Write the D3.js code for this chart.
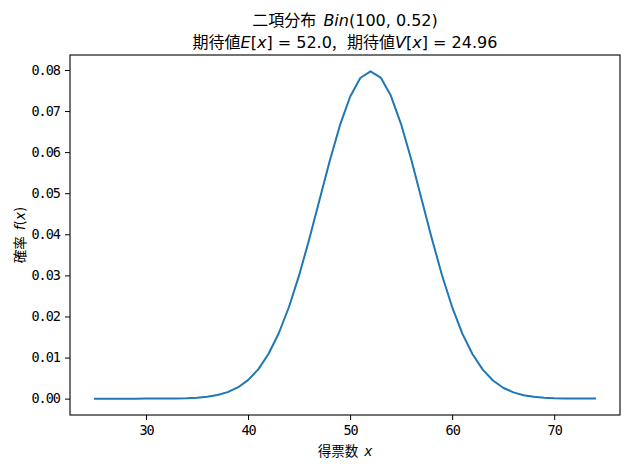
<!DOCTYPE html>
<html>
<head>
<meta charset="utf-8">
<script src="https://cdn.jsdelivr.net/npm/d3@7"></script>
<style>
body { margin: 0; background: #fff; }
text { white-space: pre; }
</style>
</head>
<body>
<div id="chart"></div>
<script>
// 得票数 x (25..74)
const votes = [25, 26, 27, 28, 29, 30, 31, 32, 33, 34, 35, 36, 37, 38, 39, 40, 41, 42, 43, 44,
    45, 46, 47, 48, 49, 50, 51, 52, 53, 54, 55, 56, 57, 58, 59, 60, 61, 62, 63, 64,
    65, 66, 67, 68, 69, 70, 71, 72, 73, 74];
// 確率 f(x)
const probs = [0.00000002, 0.00000006, 0.0000002, 0.0000006, 0.0000017, 0.0000043, 0.0000106, 0.0000247, 0.0000551, 0.000118,
    0.000240, 0.000470, 0.000880, 0.001580, 0.002721, 0.004496, 0.007128, 0.010848, 0.015851, 0.022245,
    0.029989, 0.038845, 0.048350, 0.057835, 0.066490, 0.073472, 0.078034, 0.079656, 0.078157, 0.073694,
    0.066771, 0.058127, 0.048609, 0.039041, 0.030108, 0.022288, 0.015833, 0.010789, 0.007050, 0.004415,
    0.002649, 0.001522, 0.000837, 0.000440, 0.000221, 0.000106, 0.0000485, 0.0000212, 0.0000088, 0.0000035];
const xTicks = [30, 40, 50, 60, 70];
const yTicks = [0.00, 0.01, 0.02, 0.03, 0.04, 0.05, 0.06, 0.07, 0.08];

const cjk = '"Noto Sans CJK JP", sans-serif';
const math = '"DejaVu Sans", sans-serif';
const tickFont = '"DejaVu Sans Mono", monospace';

const svg = d3.select('#chart').append('svg').attr('width', 630).attr('height', 470);

const margin = {top: 55, right: 10, bottom: 55, left: 70},
      width = +svg.attr('width') - margin.left - margin.right,
      height = +svg.attr('height') - margin.top - margin.bottom;

const data = votes.map((v, i) => ({x: v, y: probs[i]}));

// matplotlib-like 5% padding
const xExt = d3.extent(votes), yExt = d3.extent(probs);
const xPad = (xExt[1] - xExt[0]) * 0.05, yPad = (yExt[1] - yExt[0]) * 0.05;

const x = d3.scaleLinear().domain([xExt[0] - xPad, xExt[1] + xPad]).range([0, width]);
const y = d3.scaleLinear().domain([yExt[0] - yPad, yExt[1] + yPad]).range([height, 0]);

const g = svg.append('g').attr('transform', `translate(${margin.left},${margin.top})`);

const xAxis = g.append('g')
    .attr('transform', `translate(0,${height})`)
    .call(d3.axisBottom(x).tickValues(xTicks).tickSize(5).tickPadding(5).tickFormat(d3.format('d')));

const yAxis = g.append('g')
    .call(d3.axisLeft(y).tickValues(yTicks).tickSize(5).tickPadding(5).tickFormat(d3.format('.2f')));

[xAxis, yAxis].forEach(a => {
    a.select('.domain').remove();
    a.selectAll('.tick line').attr('stroke', '#000').attr('stroke-width', 1);
    a.selectAll('.tick text').attr('fill', '#000')
        .style('font-family', tickFont).style('font-size', '13.5px').style('letter-spacing', '-1px');
});

g.append('path')
    .datum(data)
    .attr('fill', 'none')
    .attr('stroke', '#1f77b4')
    .attr('stroke-width', 2)
    .attr('stroke-linejoin', 'round')
    .attr('stroke-linecap', 'square')
    .attr('d', d3.line().x(d => x(d.x)).y(d => y(d.y)));

g.append('rect')
    .attr('x', 0).attr('y', 0)
    .attr('width', width).attr('height', height)
    .attr('fill', 'none')
    .attr('stroke', '#000')
    .attr('stroke-width', 1.1);

// title
const t1 = svg.append('text')
    .attr('x', margin.left + width / 2).attr('y', 26)
    .attr('text-anchor', 'middle')
    .style('font-size', '16px');
t1.append('tspan').style('font-family', cjk).text('二項分布  ');
t1.append('tspan').style('font-family', math).style('font-style', 'italic').text('Bin');
t1.append('tspan').style('font-family', math).text('(100, 0.52)');

const t2 = svg.append('text')
    .attr('x', margin.left + width / 2).attr('y', 48)
    .attr('text-anchor', 'middle')
    .style('font-size', '16px');
t2.append('tspan').style('font-family', cjk).text('期待値');
t2.append('tspan').style('font-family', math).style('font-style', 'italic').text('E');
t2.append('tspan').style('font-family', math).text('[');
t2.append('tspan').style('font-family', math).style('font-style', 'italic').text('x');
t2.append('tspan').style('font-family', math).text('] = 52.0');
t2.append('tspan').style('font-family', cjk).text(',   期待値');
t2.append('tspan').style('font-family', math).style('font-style', 'italic').text('V');
t2.append('tspan').style('font-family', math).text('[');
t2.append('tspan').style('font-family', math).style('font-style', 'italic').text('x');
t2.append('tspan').style('font-family', math).text('] = 24.96');

// axis labels
const xl = svg.append('text')
    .attr('x', margin.left + width / 2).attr('y', 456)
    .attr('text-anchor', 'middle')
    .style('font-size', '13.5px');
xl.append('tspan').style('font-family', cjk).text('得票数  ');
xl.append('tspan').style('font-family', math).style('font-style', 'italic').text('x');

const yl = svg.append('text')
    .attr('transform', `translate(25,${margin.top + height / 2}) rotate(-90)`)
    .attr('text-anchor', 'middle')
    .style('font-size', '13.5px');
yl.append('tspan').style('font-family', cjk).text('確率  ');
yl.append('tspan').style('font-family', math).style('font-style', 'italic').text('f');
yl.append('tspan').style('font-family', math).text('(');
yl.append('tspan').style('font-family', math).style('font-style', 'italic').text('x');
yl.append('tspan').style('font-family', math).text(')');
</script>
</body>
</html>
